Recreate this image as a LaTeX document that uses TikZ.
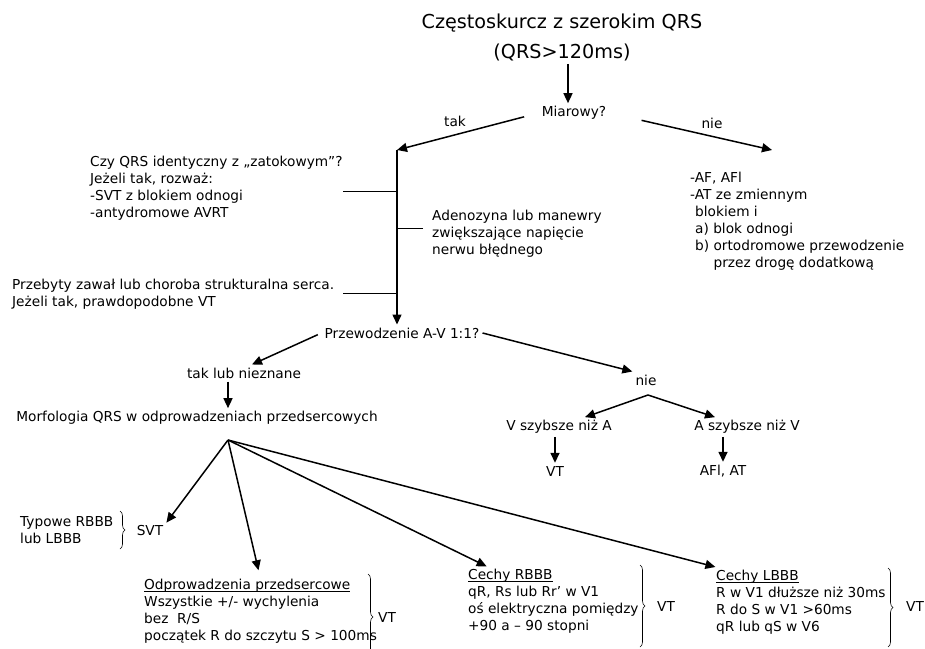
\documentclass[tikz,border=0pt]{standalone}
\usepackage{fontspec}
\setmainfont{DejaVu Sans}
\usetikzlibrary{positioning, arrows.meta, decorations.pathreplacing}
\newcommand{\podkresl}[1]{\setbox0\hbox{#1}\rlap{\rule[-2pt]{\wd0}{0.6pt}}\box0}

\begin{document}
\begin{tikzpicture}[x=1pt, y=-1pt,
    font=\fontsize{13.7}{17}\selectfont,
    blok/.style={align=left, anchor=north west, inner sep=0pt},
    lbl/.style={inner sep=3pt},
    arr/.style={line width=1.5pt, -{Triangle[length=10pt,width=9pt]}},
    stub/.style={line width=0.8pt},
    klamra/.style={decorate, decoration={brace, amplitude=5pt}, line width=0.6pt}]
    \useasboundingbox (0,0) rectangle (925,648);

    % gora
    \node[lbl, align=center, font=\fontsize{19.2}{30}\selectfont] (tytul) at (562,37)
        {Częstoskurcz z szerokim QRS\\(QRS>120ms)};
    \node[lbl] (miar) at (574,113) {Miarowy?};
    \node[lbl] (tak) at (455,121) {tak};
    \node[lbl] (nie) at (712,123) {nie};
    \coordinate (tv) at (397,150);
    \coordinate (nv) at (772,150);

    \draw[arr] ([xshift=6pt]tytul.south) -- ([xshift=6pt]tytul.south |- miar.north);
    \draw[arr, shorten <=15pt] (miar.west) -- (tv);
    \draw[arr, shorten <=33pt] (miar.east) -- (nv);

    % lewa strona
    \node[blok] (czy) at (90,156) {Czy QRS identyczny z „zatokowym”?\\Jeżeli tak, rozważ:\\-SVT z blokiem odnogi\\-antydromowe AVRT};
    \node[blok] (zawal) at (12,279) {Przebyty zawał lub choroba strukturalna serca.\\Jeżeli tak, prawdopodobne VT};
    \node[blok] (adeno) at (432,210) {Adenozyna lub manewry\\zwiększające napięcie\\nerwu błędnego};
    \node[blok] (af) at (690,172) {-AF, AFl\\-AT ze zmiennym\\\hspace*{5pt}blokiem i\\\hspace*{5pt}a) blok odnogi\\\hspace*{5pt}b) ortodromowe przewodzenie\\\hspace*{5pt}\phantom{b) }przez drogę dodatkową};

    \coordinate (s1) at (343,191);
    \coordinate (s2) at (423,228);
    \coordinate (s3) at (343,293);
    \draw[stub] (s1) -- (s1 -| tv);
    \draw[stub] (s2) -- (s2 -| tv);
    \draw[stub] (s3) -- (s3 -| tv);

    \node[lbl] (przew) at (402,333) {Przewodzenie A-V 1:1?};
    \draw[arr] (tv) -- (tv |- przew.north);

    % tak lub nieznane
    \node[lbl] (tln) at (244,373) {tak lub nieznane};
    \node[lbl] (morf) at (197,418) {Morfologia QRS w odprowadzeniach przedsercowych};
    \coordinate (fan) at (228,440);
    \draw[arr, shorten <=4pt] (przew.west) -- ([xshift=8pt]tln.north);
    \draw[arr] (fan |- tln.south) -- (fan |- morf.north);

    % nie
    \node[lbl] (nie2) at (646,380) {nie};
    \coordinate (fan2) at (648,395);
    \node[lbl] (vszyb) at (559,427) {V szybsze niż A};
    \node[lbl] (aszyb) at (747,427) {A szybsze niż V};
    \node[lbl] (vt1) at (555,471) {VT};
    \node[lbl] (afat) at (723,471) {AFl, AT};
    \draw[arr] (przew.east) -- (nie2.north west);
    \draw[arr] (fan2) -- ([xshift=26pt]vszyb.north);
    \draw[arr] (fan2) -- ([xshift=-32pt]aszyb.north);
    \draw[arr] (vt1.north |- vszyb.south) -- (vt1.north);
    \draw[arr] (afat.north |- aszyb.south) -- (afat.north);

    % dol
    \node[blok] (typ) at (20,516) {Typowe RBBB\\lub LBBB};
    \node[lbl] (svt) at (150,531) {SVT};
    \node[blok] (odpr) at (144,579) {\podkresl{Odprowadzenia przedsercowe}\\Wszystkie +/- wychylenia\\bez\ \ R/S\\początek R do szczytu S > 100ms};
    \node[blok] (rbbb) at (468,569) {\podkresl{Cechy RBBB}\\qR, Rs lub Rr’ w V1\\oś elektryczna pomiędzy\\+90 a – 90 stopni};
    \node[blok] (lbbb) at (716,570) {\podkresl{Cechy LBBB}\\R w V1 dłuższe niż 30ms\\R do S w V1 >60ms\\qR lub qS w V6};
    \node[lbl] (vt2) at (387,617) {VT};
    \node[lbl] (vt3) at (666,606) {VT};
    \node[lbl] (vt4) at (915,606) {VT};

    \draw[arr] (fan) -- (svt.north east);
    \draw[arr, shorten >=9pt] (fan) -- (odpr.north);
    \draw[arr, shorten >=6pt] (fan) -- ([xshift=24pt]rbbb.north west);
    \draw[arr, shorten >=12pt] (fan) -- ([xshift=11pt]lbbb.north west);

    \draw[klamra] (120,511) -- (120,549);
    \draw[klamra] (368,574) -- (368,660);
    \draw[klamra] (640,565) -- (640,647);
    \draw[klamra] (888,568) -- (888,647);
\end{tikzpicture}
\end{document}
